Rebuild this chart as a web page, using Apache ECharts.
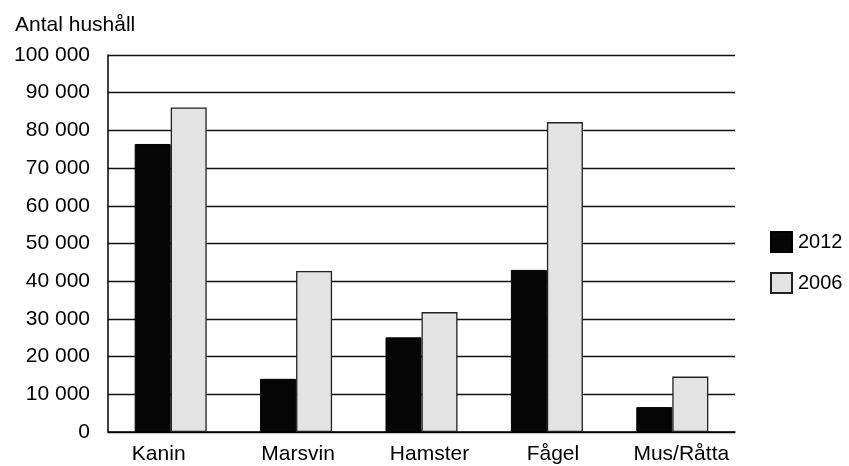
<!DOCTYPE html>
<html><head><meta charset="utf-8">
<script src="https://cdn.jsdelivr.net/npm/echarts@6/dist/echarts.min.js"></script>
<style>html,body{margin:0;padding:0;background:#fff}#c{width:849px;height:466px}</style>
</head><body><div id="c"></div>
<script>
const categories = ['Kanin', 'Marsvin', 'Hamster', 'Fågel', 'Mus/Råtta'];
const values2012 = [76400, 14100, 25100, 43000, 6600];
const values2006 = [86100, 42700, 31800, 82200, 14700];
const seriesNames = ['2012', '2006'];
const yTitle = 'Antal hushåll';

const chart = echarts.init(document.getElementById('c'));
const font = 'Liberation Sans, Arial, sans-serif';
// horizontal nudges of the category labels, as laid out in the original
const nudge = [-12, 2, 8, 6, 9];
const catData = categories.map((c, i) => ({
  value: c,
  textStyle: { padding: nudge[i] >= 0 ? [0, 0, 0, 2 * nudge[i]] : [0, -2 * nudge[i], 0, 0] }
}));
chart.setOption({
  animation: false,
  textStyle: { fontFamily: font },
  grid: { left: 108, right: 114, top: 55, bottom: 34 },
  title: { text: yTitle, left: 10, top: 10, textStyle: { fontFamily: font, fontSize: 21, fontWeight: 'normal', color: '#000' } },
  legend: {
    orient: 'vertical', left: 765, top: 226, itemWidth: 21, itemHeight: 20, itemGap: 19,
    icon: 'rect',
    textStyle: { fontFamily: font, fontSize: 20, color: '#000', padding: [0, 0, 0, 1] },
    data: seriesNames
  },
  xAxis: {
    type: 'category', data: catData,
    axisLine: { lineStyle: { color: '#000', width: 1.5 } },
    axisTick: { show: false },
    axisLabel: { color: '#000', fontSize: 21, margin: 12, fontFamily: font }
  },
  yAxis: {
    type: 'value', min: 0, max: 100000, interval: 10000,
    axisLine: { show: true, lineStyle: { color: '#000', width: 1.5 } },
    axisTick: { show: false },
    splitLine: { lineStyle: { color: '#111', width: 1.3 } },
    axisLabel: { color: '#000', fontSize: 21, margin: 18, fontFamily: font,
      formatter: v => v === 0 ? '0' : String(v).replace(/\B(?=(\d{3})+(?!\d))/g, ' ') }
  },
  series: [
    { name: seriesNames[0], type: 'bar', data: values2012, barWidth: 36, barGap: '0%',
      itemStyle: { color: '#050505', borderColor: '#000', borderWidth: 1 } },
    { name: seriesNames[1], type: 'bar', data: values2006, barWidth: 36, barGap: '0%',
      itemStyle: { color: '#e3e3e3', borderColor: '#222', borderWidth: 1.3 } }
  ]
});
</script></body></html>
